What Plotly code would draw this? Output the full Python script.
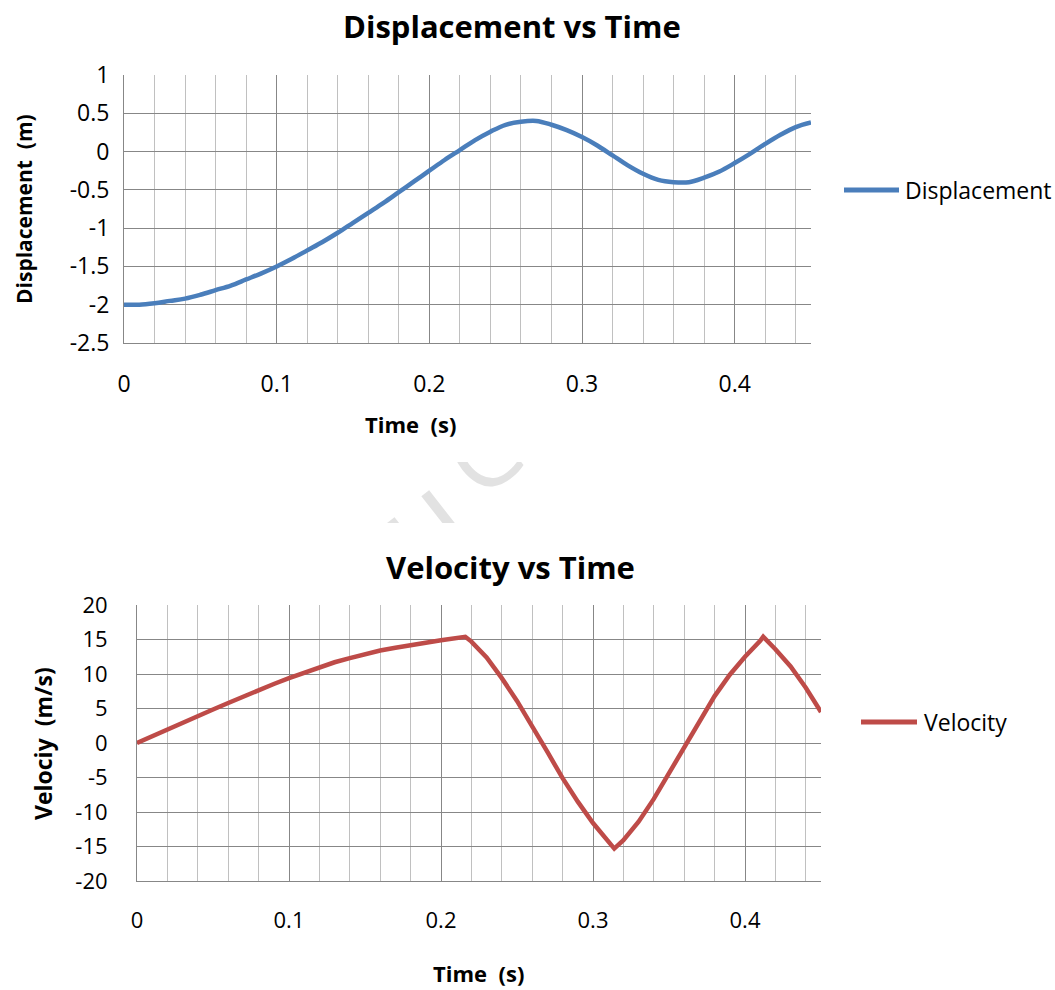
import plotly.graph_objects as go

# Displacement samples (s, m)
time_disp = [0.00, 0.01, 0.02, 0.03, 0.04, 0.05, 0.06, 0.07, 0.08, 0.09,
             0.10, 0.11, 0.12, 0.13, 0.14, 0.15, 0.16, 0.17, 0.18, 0.19,
             0.20, 0.21, 0.22, 0.23, 0.24, 0.25, 0.26, 0.27, 0.28, 0.29,
             0.30, 0.31, 0.32, 0.33, 0.34, 0.35, 0.36, 0.37, 0.38, 0.39,
             0.40, 0.41, 0.42, 0.43, 0.44, 0.45]
displacement = [-2.00, -2.00, -1.98, -1.95, -1.92, -1.87, -1.81, -1.75, -1.67, -1.59,
                -1.50, -1.40, -1.29, -1.18, -1.06, -0.93, -0.80, -0.67, -0.53, -0.39,
                -0.25, -0.11, 0.02, 0.15, 0.26, 0.35, 0.39, 0.40, 0.35, 0.28,
                0.19, 0.08, -0.05, -0.18, -0.29, -0.37, -0.40, -0.40, -0.34, -0.26,
                -0.15, -0.03, 0.10, 0.22, 0.32, 0.38]

# Velocity samples (s, m/s)
time_vel = [0.00, 0.01, 0.02, 0.03, 0.04, 0.05, 0.06, 0.07, 0.08, 0.09,
            0.10, 0.11, 0.12, 0.13, 0.14, 0.15, 0.16, 0.17, 0.18, 0.19,
            0.20, 0.216, 0.22, 0.23, 0.24, 0.25, 0.26, 0.27, 0.28, 0.29,
            0.30, 0.31, 0.314, 0.32, 0.33, 0.34, 0.35, 0.36, 0.37, 0.38,
            0.39, 0.40, 0.41, 0.412, 0.42, 0.43, 0.44, 0.45]
velocity = [0.0, 1.0, 2.0, 2.95, 3.9, 4.85, 5.8, 6.75, 7.7, 8.55,
            9.4, 10.2, 11.0, 11.7, 12.3, 12.9, 13.4, 13.8, 14.2, 14.6,
            14.9, 15.4, 14.7, 12.4, 9.4, 6.1, 2.5, -1.3, -5.1, -8.5,
            -11.6, -14.4, -15.3, -14.1, -11.4, -8.1, -4.4, -0.6, 3.3, 6.8,
            9.9, 12.5, 14.8, 15.4, 13.6, 11.1, 8.0, 4.5]

x_ticks = [0, 0.1, 0.2, 0.3, 0.4]
x_tick_text = ["0", "0.1", "0.2", "0.3", "0.4"]
disp_ticks = [1, 0.5, 0, -0.5, -1, -1.5, -2, -2.5]
disp_tick_text = ["1", "0.5", "0", "-0.5", "-1", "-1.5", "-2", "-2.5"]
vel_ticks = [20, 15, 10, 5, 0, -5, -10, -15, -20]
vel_tick_text = ["20", "15", "10", "5", "0", "-5", "-10", "-15", "-20"]

W, H = 1055, 990
FONT = "Open Sans"
BLUE = "#4A7EBB"
RED = "#BE4B48"
MAJOR = "#878787"
MINOR = "#C0C0C0"


def px(x):
    return x / W


def py(y):
    return 1 - y / H


fig = go.Figure()
fig.add_trace(go.Scatter(x=time_disp, y=displacement, mode="lines",
                         line=dict(color=BLUE, width=4.5, shape="spline", smoothing=1.0),
                         xaxis="x", yaxis="y", showlegend=False, name="Displacement"))
fig.add_trace(go.Scatter(x=time_vel, y=velocity, mode="lines",
                         line=dict(color=RED, width=4.5),
                         xaxis="x2", yaxis="y2", showlegend=False, name="Velocity"))


def xaxis_style(domain, anchor, size):
    return dict(domain=domain, anchor=anchor, range=[0, 0.45],
                tickvals=x_ticks, ticktext=x_tick_text,
                tickfont=dict(family=FONT, size=size, color="black"),
                showgrid=True, gridcolor=MAJOR, gridwidth=1,
                minor=dict(dtick=0.02, tick0=0, showgrid=True, gridcolor=MINOR, gridwidth=1),
                showline=True, linecolor=MAJOR, linewidth=1, ticks="",
                ticklabelstandoff=20, zeroline=False, fixedrange=True, automargin=False)


def yaxis_style(domain, anchor, rng, vals, labels, standoff, size):
    return dict(domain=domain, anchor=anchor, range=rng, tickvals=vals, ticktext=labels,
                tickfont=dict(family=FONT, size=size, color="black"),
                showgrid=True, gridcolor=MAJOR, gridwidth=1,
                showline=True, linecolor=MAJOR, linewidth=1, ticks="",
                ticklabelstandoff=standoff, zeroline=False, fixedrange=True, automargin=False)


fig.update_layout(
    template="none",
    width=W, height=H, margin=dict(l=0, r=0, t=0, b=0, autoexpand=False),
    paper_bgcolor="white", plot_bgcolor="white", showlegend=False,
    xaxis=xaxis_style([px(124), px(811)], "y", 23),
    yaxis=yaxis_style([py(343), py(75)], "x", [-2.5, 1], disp_ticks, disp_tick_text, 9, 23),
    xaxis2=xaxis_style([px(137), px(821)], "y2", 22),
    yaxis2=yaxis_style([py(881), py(605)], "x2", [-20, 20], vel_ticks, vel_tick_text, 24, 22),
)

annotations = []


def text(x, y, s, size, bold=False, angle=0, xanchor="center", color="black"):
    annotations.append(dict(
        x=px(x), y=py(y), xref="paper", yref="paper", text=f"<b>{s}</b>" if bold else s,
        showarrow=False, xanchor=xanchor, yanchor="middle", textangle=angle,
        font=dict(family=FONT, size=size, color=color)))


def blank(x0, y0, x1, y1):
    annotations.append(dict(
        x=px((x0 + x1) / 2), y=py((y0 + y1) / 2), xref="paper", yref="paper", text=" ",
        showarrow=False, width=x1 - x0, height=y1 - y0, bgcolor="white", borderpad=0,
        borderwidth=0))


# faint diagonal watermark, visible only in the strip between the two charts
text(419, 520, "u", 120, angle=-38, color="#E2E2E2")
text(480, 452, "C", 100, angle=-38, color="#E2E2E2")
blank(280, 397, 640, 462)
blank(280, 523, 640, 603)

# titles
text(512, 26, "Displacement vs Time", 31, bold=True)
text(510, 567, "Velocity vs Time", 31, bold=True)
# axis titles
text(410, 424, "Time  (s)", 22, bold=True)
text(478, 973, "Time  (s)", 22, bold=True)
text(24, 209, "Displacement  (m)", 21, bold=True, angle=-90)
text(43, 744, "Velociy  (m/s)", 23, bold=True, angle=-90)
# legends
text(903, 190, "Displacement", 23, xanchor="left")
text(922, 722, "Velocity", 23, xanchor="left")

fig.update_layout(annotations=annotations)

fig.add_shape(type="line", xref="paper", yref="paper", x0=px(844), x1=px(899),
              y0=py(190), y1=py(190), line=dict(color=BLUE, width=5))
fig.add_shape(type="line", xref="paper", yref="paper", x0=px(861), x1=px(917),
              y0=py(722), y1=py(722), line=dict(color=RED, width=5))

fig.write_html("out.html")
